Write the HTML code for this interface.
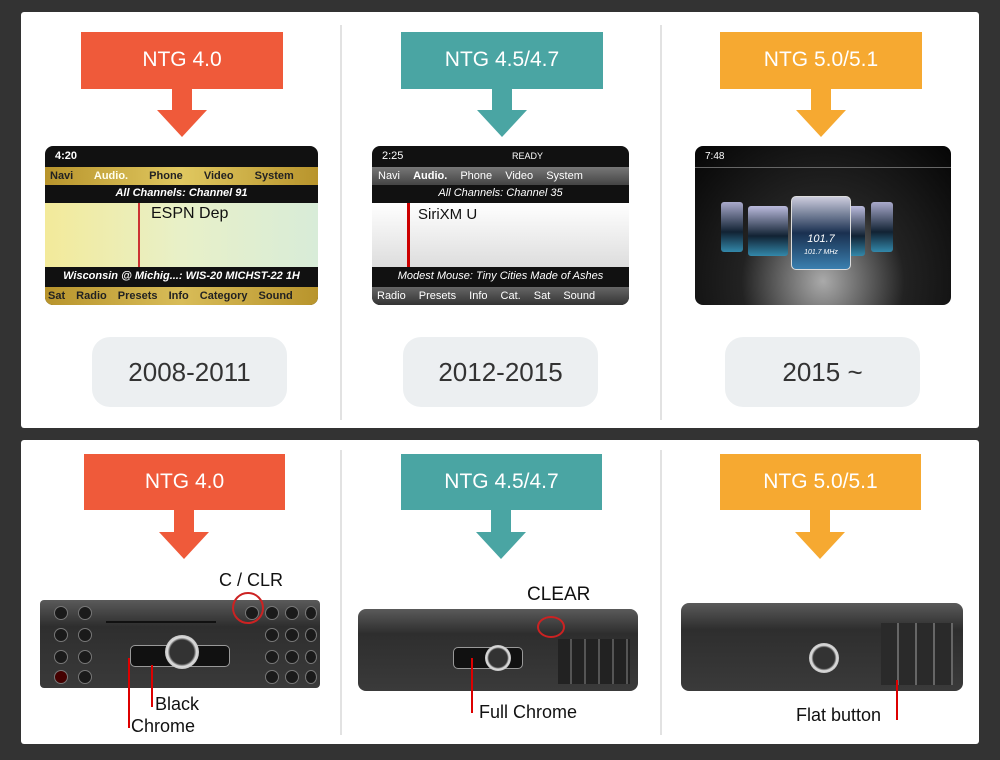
<!DOCTYPE html>
<html><head><meta charset="utf-8"><style>
*{margin:0;padding:0;box-sizing:border-box}
body{width:1000px;height:760px;background:#333;position:relative;overflow:hidden;font-family:"Liberation Sans",sans-serif}
.a{position:absolute}
.panel{background:#fff;border-radius:3px}
.ban{color:#fff;font-size:21px;text-align:center;line-height:56px}
.yr{background:#eceff1;border-radius:18px;color:#333;font-size:26px;text-align:center;line-height:70px}
.div{background:#e2e2e2;width:2px}
.scr{border-radius:8px;overflow:hidden}
.rad{background:linear-gradient(#5a5a5a,#2e2e2e 30%,#3a3a3a);border-radius:4px}
.btn{position:absolute;width:14px;height:14px;border-radius:50%;background:#1a1a1a;border:1px solid #777}
.lbl{position:absolute;color:#111;font-size:18px}
.red{position:absolute;background:#d00;width:2px}
</style></head><body>
<div class="a panel" style="left:21px;top:12px;width:958px;height:416px"></div>
<div class="a panel" style="left:21px;top:440px;width:958px;height:304px"></div>
<div class="a div" style="left:340px;top:25px;height:395px"></div>
<div class="a div" style="left:660px;top:25px;height:395px"></div>
<div class="a div" style="left:340px;top:450px;height:285px"></div>
<div class="a div" style="left:660px;top:450px;height:285px"></div>

<!-- top banners -->
<div class="a ban" style="left:81px;top:32px;width:202px;height:57px;background:#ef5a3a">NTG 4.0</div>
<div class="a" style="left:172px;top:88px;width:20px;height:24px;background:#ef5a3a"></div>
<div class="a" style="left:157px;top:110px;border-left:25px solid transparent;border-right:25px solid transparent;border-top:27px solid #ef5a3a"></div>
<div class="a ban" style="left:401px;top:32px;width:202px;height:57px;background:#4aa5a3">NTG 4.5/4.7</div>
<div class="a" style="left:492px;top:88px;width:20px;height:24px;background:#4aa5a3"></div>
<div class="a" style="left:477px;top:110px;border-left:25px solid transparent;border-right:25px solid transparent;border-top:27px solid #4aa5a3"></div>
<div class="a ban" style="left:720px;top:32px;width:202px;height:57px;background:#f6a931">NTG 5.0/5.1</div>
<div class="a" style="left:811px;top:88px;width:20px;height:24px;background:#f6a931"></div>
<div class="a" style="left:796px;top:110px;border-left:25px solid transparent;border-right:25px solid transparent;border-top:27px solid #f6a931"></div>

<!-- screen 1 -->
<div class="a scr" style="left:45px;top:146px;width:273px;height:159px;background:#111">
 <div class="a" style="left:10px;top:4px;color:#fff;font-size:11px;font-weight:bold">4:20</div>
 <div class="a" style="left:0;top:21px;width:273px;height:18px;background:linear-gradient(90deg,#b8942c,#e0c860,#b8942c);font-size:11px;font-weight:bold;color:#222;line-height:18px;word-spacing:18px;padding-left:5px">Navi <span style="color:#ffe">Audio.</span> Phone Video System</div>
 <div class="a" style="left:0;top:41px;width:273px;text-align:center;color:#fff;font-size:11px;font-style:italic;font-weight:bold">All Channels: Channel 91</div>
 <div class="a" style="left:0;top:57px;width:273px;height:64px;background:linear-gradient(90deg,#f3ea9a,#e8f0c8,#d8ecd8)"></div>
 <div class="a" style="left:93px;top:57px;width:2px;height:64px;background:#c33"></div>
 <div class="a" style="left:106px;top:59px;font-size:16px;color:#111">ESPN Dep</div>
 <div class="a" style="left:0;top:121px;width:273px;text-align:center;color:#fff;font-size:11px;font-style:italic;font-weight:bold;line-height:18px">Wisconsin @ Michig...: WIS-20 MICHST-22 1H</div>
 <div class="a" style="left:0;top:141px;width:273px;height:18px;background:linear-gradient(90deg,#b8942c,#d8bc58,#b8942c);font-size:11px;font-weight:bold;color:#222;line-height:18px;word-spacing:8px;padding-left:3px">Sat Radio Presets Info Category Sound</div>
</div>
<!-- screen 2 -->
<div class="a scr" style="left:372px;top:146px;width:257px;height:159px;background:#111">
 <div class="a" style="left:10px;top:4px;color:#fff;font-size:11px">2:25</div>
 <div class="a" style="left:140px;top:5px;color:#fff;font-size:9px">READY</div>
 <div class="a" style="left:0;top:21px;width:257px;height:18px;background:linear-gradient(#777,#444);font-size:11px;color:#fff;line-height:18px;word-spacing:10px;padding-left:6px">Navi <b>Audio.</b> Phone Video System</div>
 <div class="a" style="left:0;top:41px;width:257px;text-align:center;color:#fff;font-size:11px;font-style:italic">All Channels: Channel 35</div>
 <div class="a" style="left:0;top:57px;width:257px;height:64px;background:linear-gradient(#fff,#ddd)"></div>
 <div class="a" style="left:35px;top:57px;width:3px;height:64px;background:#c00"></div>
 <div class="a" style="left:46px;top:60px;font-size:15px;color:#111">SiriXM U</div>
 <div class="a" style="left:0;top:121px;width:257px;text-align:center;color:#fff;font-size:11px;font-style:italic;line-height:18px">Modest Mouse: Tiny Cities Made of Ashes</div>
 <div class="a" style="left:0;top:141px;width:257px;height:18px;background:linear-gradient(#666,#333);font-size:11px;color:#fff;line-height:18px;word-spacing:10px;padding-left:5px">Radio Presets Info Cat. Sat Sound</div>
</div>
<!-- screen 3 -->
<div class="a scr" style="left:695px;top:146px;width:256px;height:159px;background:radial-gradient(ellipse at 50% 85%,#aaa,#222 45%,#050505)">
 <div class="a" style="left:10px;top:5px;color:#fff;font-size:10px">7:48</div>
 <div class="a" style="left:0;top:21px;width:256px;height:1px;background:#666"></div>
 <div class="a" style="left:26px;top:56px;width:22px;height:50px;background:linear-gradient(#aac,#123 60%,#38a);border-radius:3px"></div>
 <div class="a" style="left:53px;top:60px;width:40px;height:50px;background:linear-gradient(#bbd,#123 60%,#38a);border-radius:3px"></div>
 <div class="a" style="left:130px;top:60px;width:40px;height:50px;background:linear-gradient(#bbd,#123 60%,#38a);border-radius:3px"></div>
 <div class="a" style="left:176px;top:56px;width:22px;height:50px;background:linear-gradient(#aac,#123 60%,#38a);border-radius:3px"></div>
 <div class="a" style="left:96px;top:50px;width:60px;height:74px;background:linear-gradient(#ccd,#1a3050 50%,#3a80b0);border-radius:5px;border:1px solid #ddd;color:#fff;text-align:center;font-size:11px;font-style:italic;padding-top:36px">101.7<br><span style="font-size:7px">101.7 MHz</span></div>
</div>

<div class="a yr" style="left:92px;top:337px;width:195px;height:70px">2008-2011</div>
<div class="a yr" style="left:403px;top:337px;width:195px;height:70px">2012-2015</div>
<div class="a yr" style="left:725px;top:337px;width:195px;height:70px">2015 ~</div>

<!-- bottom banners -->
<div class="a ban" style="left:84px;top:454px;width:201px;height:56px;background:#ef5a3a">NTG 4.0</div>
<div class="a" style="left:174px;top:509px;width:20px;height:25px;background:#ef5a3a"></div>
<div class="a" style="left:159px;top:532px;border-left:25px solid transparent;border-right:25px solid transparent;border-top:27px solid #ef5a3a"></div>
<div class="a ban" style="left:401px;top:454px;width:201px;height:56px;background:#4aa5a3">NTG 4.5/4.7</div>
<div class="a" style="left:491px;top:509px;width:20px;height:25px;background:#4aa5a3"></div>
<div class="a" style="left:476px;top:532px;border-left:25px solid transparent;border-right:25px solid transparent;border-top:27px solid #4aa5a3"></div>
<div class="a ban" style="left:720px;top:454px;width:201px;height:56px;background:#f6a931">NTG 5.0/5.1</div>
<div class="a" style="left:810px;top:509px;width:20px;height:25px;background:#f6a931"></div>
<div class="a" style="left:795px;top:532px;border-left:25px solid transparent;border-right:25px solid transparent;border-top:27px solid #f6a931"></div>

<!-- radio 1 -->
<div class="a rad" style="left:40px;top:600px;width:280px;height:88px">
 <div class="btn" style="left:14px;top:6px"></div><div class="btn" style="left:38px;top:6px"></div>
 <div class="btn" style="left:14px;top:28px"></div><div class="btn" style="left:38px;top:28px"></div>
 <div class="btn" style="left:14px;top:50px"></div><div class="btn" style="left:38px;top:50px"></div>
 <div class="btn" style="left:14px;top:70px;background:#400"></div><div class="btn" style="left:38px;top:70px"></div>
 <div class="a" style="left:66px;top:21px;width:110px;height:2px;background:#111"></div>
 <div class="a" style="left:90px;top:45px;width:100px;height:22px;background:#111;border-radius:5px;border:1px solid #999"></div>
 <div class="a" style="left:125px;top:35px;width:34px;height:34px;border-radius:50%;background:radial-gradient(#333 50%,#ddd 60%,#888)"></div>
 <div class="btn" style="left:205px;top:6px"></div>
 <div class="btn" style="left:225px;top:6px"></div><div class="btn" style="left:245px;top:6px"></div><div class="btn" style="left:265px;top:6px;width:12px"></div>
 <div class="btn" style="left:225px;top:28px"></div><div class="btn" style="left:245px;top:28px"></div><div class="btn" style="left:265px;top:28px;width:12px"></div>
 <div class="btn" style="left:225px;top:50px"></div><div class="btn" style="left:245px;top:50px"></div><div class="btn" style="left:265px;top:50px;width:12px"></div>
 <div class="btn" style="left:225px;top:70px"></div><div class="btn" style="left:245px;top:70px"></div><div class="btn" style="left:265px;top:70px;width:12px"></div>
</div>
<div class="a" style="left:232px;top:592px;width:32px;height:32px;border-radius:50%;border:2px solid #c22"></div>
<div class="lbl" style="left:219px;top:570px">C / CLR</div>
<div class="red" style="left:128px;top:658px;height:70px"></div>
<div class="red" style="left:151px;top:665px;height:42px"></div>
<div class="lbl" style="left:155px;top:694px">Black</div>
<div class="lbl" style="left:131px;top:716px">Chrome</div>

<!-- radio 2 -->
<div class="a rad" style="left:358px;top:609px;width:280px;height:82px;border-radius:8px">
 <div class="a" style="left:95px;top:38px;width:70px;height:22px;background:#111;border-radius:5px;border:1px solid #999"></div>
 <div class="a" style="left:127px;top:36px;width:26px;height:26px;border-radius:50%;background:radial-gradient(#333 50%,#ddd 60%,#888)"></div>
 <div class="a" style="left:200px;top:30px;width:72px;height:45px;background:repeating-linear-gradient(90deg,#222 0 12px,#555 12px 14px)"></div>
</div>
<div class="a" style="left:537px;top:616px;width:28px;height:22px;border-radius:50%;border:2px solid #c22"></div>
<div class="lbl" style="left:527px;top:584px;font-size:19px">CLEAR</div>
<div class="red" style="left:471px;top:658px;height:55px"></div>
<div class="lbl" style="left:479px;top:702px">Full Chrome</div>

<!-- radio 3 -->
<div class="a rad" style="left:681px;top:603px;width:282px;height:88px;border-radius:8px">
 <div class="a" style="left:128px;top:40px;width:30px;height:30px;border-radius:50%;background:radial-gradient(#333 50%,#ddd 60%,#888)"></div>
 <div class="a" style="left:200px;top:20px;width:72px;height:62px;background:repeating-linear-gradient(90deg,#2a2a2a 0 16px,#666 16px 18px)"></div>
</div>
<div class="red" style="left:896px;top:680px;height:40px"></div>
<div class="lbl" style="left:796px;top:705px">Flat button</div>
</body></html>
